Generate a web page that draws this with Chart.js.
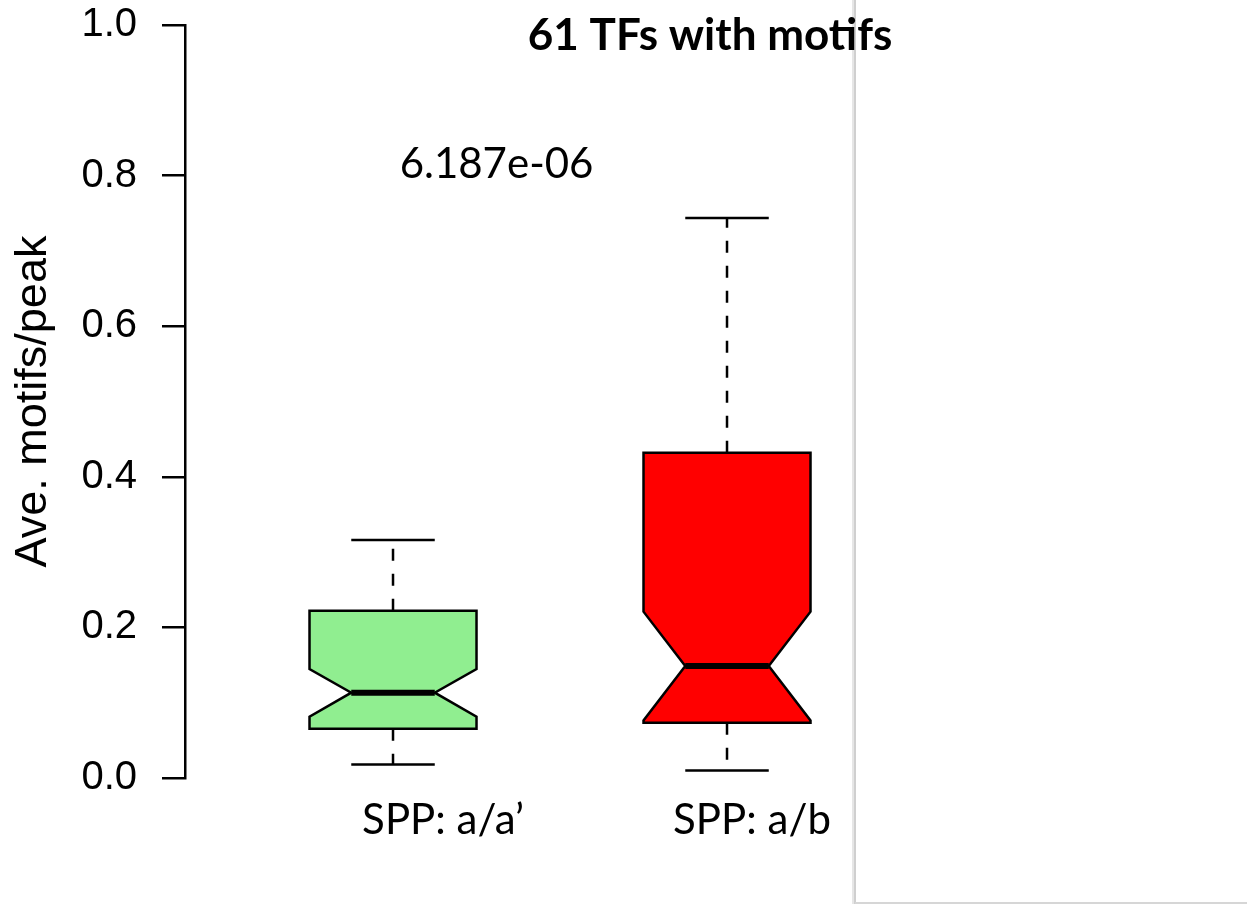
<!DOCTYPE html>
<html>
<head>
<meta charset="utf-8">
<script src="https://cdn.jsdelivr.net/npm/chart.js@4"></script>
<style>
  html, body { margin: 0; padding: 0; background: #fff; }
  #wrap { width: 1247px; height: 905px; }
</style>
</head>
<body>
<div id="wrap"><canvas id="boxChart" width="1247" height="905"></canvas></div>
<script>
const groups = ["SPP: a/a’", "SPP: a/b"];
const whiskerLow = [0.018, 0.010];
const lowerHinge = [0.0655, 0.0735];
const notchLow = [0.0814, 0.0765];
const medians = [0.1133, 0.1487];
const notchHigh = [0.1448, 0.2209];
const upperHinge = [0.2222, 0.432];
const whiskerHigh = [0.316, 0.7437];
const boxColors = ["#90ee90", "#ff0000"];
const yTicks = [0, 0.2, 0.4, 0.6, 0.8, 1.0];
const pValueText = "6.187e-06";
const titleText = "61 TFs with motifs";

const ARIAL = "'Liberation Sans', Arial, sans-serif";
const CALIBRI = "Lato, 'Open Sans', sans-serif";
const BOX_HALF = 0.25;
// labels sit a bit right of the boxes in the original
const labelShift = [50, 25];

const boxPlotPlugin = {
  id: "boxPlot",
  afterDatasetsDraw(chart) {
    const { ctx, scales: { x, y } } = chart;

    groups.forEach((g, i) => {
      const cx = x.getPixelForValue(i + 1);
      const hw = x.getPixelForValue(i + 1 + BOX_HALF) - cx;
      const nw = hw / 2;
      const cap = hw / 2;

      ctx.save();
      ctx.strokeStyle = "#000";
      ctx.lineWidth = 2.5;

      // whiskers
      ctx.setLineDash([12, 13]);
      ctx.beginPath();
      ctx.moveTo(cx, y.getPixelForValue(upperHinge[i]));
      ctx.lineTo(cx, y.getPixelForValue(whiskerHigh[i]));
      ctx.moveTo(cx, y.getPixelForValue(lowerHinge[i]));
      ctx.lineTo(cx, y.getPixelForValue(whiskerLow[i]));
      ctx.stroke();
      ctx.setLineDash([]);

      // staples
      ctx.beginPath();
      ctx.moveTo(cx - cap, y.getPixelForValue(whiskerHigh[i]));
      ctx.lineTo(cx + cap, y.getPixelForValue(whiskerHigh[i]));
      ctx.moveTo(cx - cap, y.getPixelForValue(whiskerLow[i]));
      ctx.lineTo(cx + cap, y.getPixelForValue(whiskerLow[i]));
      ctx.stroke();

      // notched box
      const pts = [
        [-hw, lowerHinge[i]], [-hw, notchLow[i]], [-nw, medians[i]], [-hw, notchHigh[i]], [-hw, upperHinge[i]],
        [hw, upperHinge[i]], [hw, notchHigh[i]], [nw, medians[i]], [hw, notchLow[i]], [hw, lowerHinge[i]]
      ];
      ctx.beginPath();
      pts.forEach((p, k) => {
        const px = cx + p[0];
        const py = y.getPixelForValue(p[1]);
        if (k === 0) ctx.moveTo(px, py); else ctx.lineTo(px, py);
      });
      ctx.closePath();
      ctx.fillStyle = boxColors[i];
      ctx.fill();
      ctx.lineJoin = "miter";
      ctx.stroke();

      // median
      ctx.lineWidth = 6;
      ctx.lineCap = "butt";
      ctx.beginPath();
      ctx.moveTo(cx - nw, y.getPixelForValue(medians[i]));
      ctx.lineTo(cx + nw, y.getPixelForValue(medians[i]));
      ctx.stroke();
      ctx.restore();
    });
  }
};

const textPlugin = {
  id: "extraText",
  afterDraw(chart) {
    const { ctx, scales: { x, y } } = chart;
    ctx.save();

    // slide edge on the right
    ctx.fillStyle = "#e6e6e6";
    ctx.fillRect(852, 0, 2, 904);
    ctx.fillStyle = "#cfcfcf";
    ctx.fillRect(854, 0, 2, 904);
    ctx.fillStyle = "#d6d6d6";
    ctx.fillRect(855, 902, 392, 2);

    ctx.fillStyle = "#000";
    ctx.textAlign = "center";
    ctx.textBaseline = "alphabetic";

    ctx.font = "bold 44px " + CALIBRI;
    ctx.fillText(titleText, 710, 50);

    ctx.font = "42px " + CALIBRI;
    ctx.fillText(pValueText, x.getPixelForValue(1.31), y.getPixelForValue(0.797));

    groups.forEach((g, i) => {
      ctx.fillText(g, x.getPixelForValue(i + 1) + labelShift[i], 834);
    });
    ctx.restore();
  }
};

function drawChart() {
  new Chart(document.getElementById("boxChart"), {
    type: "scatter",
    data: {
      datasets: [{
        label: "median",
        data: medians.map((m, i) => ({ x: i + 1, y: m })),
        pointRadius: 0
      }]
    },
    options: {
      responsive: false,
      animation: false,
      devicePixelRatio: 1,
      layout: { padding: { left: 0, right: 392, top: 25, bottom: 127 } },
      plugins: {
        legend: { display: false },
        tooltip: { enabled: false }
      },
      scales: {
        x: {
          type: "linear",
          min: 0.3772,
          max: 2.3832,
          display: false
        },
        y: {
          min: 0,
          max: 1,
          afterBuildTicks: s => { s.ticks = yTicks.map(v => ({ value: v })); },
          afterFit: s => {
            s.width = 185;
            s.paddingTop = 0;
            s.paddingBottom = 0;
          },
          grid: { drawOnChartArea: false, drawTicks: true, tickLength: 23, color: "#000", lineWidth: 2.5 },
          border: { display: true, color: "#000", width: 2.5 },
          ticks: {
            padding: 25,
            color: "#000",
            font: { family: ARIAL, size: 40 },
            callback: v => v.toFixed(1)
          },
          title: {
            display: true,
            text: "Ave. motifs/peak",
            color: "#000",
            font: { family: ARIAL, size: 45 },
            padding: { top: 7, bottom: 0 }
          }
        }
      }
    },
    plugins: [boxPlotPlugin, textPlugin]
  });
}

document.fonts.load("bold 44px Lato").then(() => document.fonts.load("42px Lato")).then(drawChart, drawChart);
</script>
</body>
</html>
